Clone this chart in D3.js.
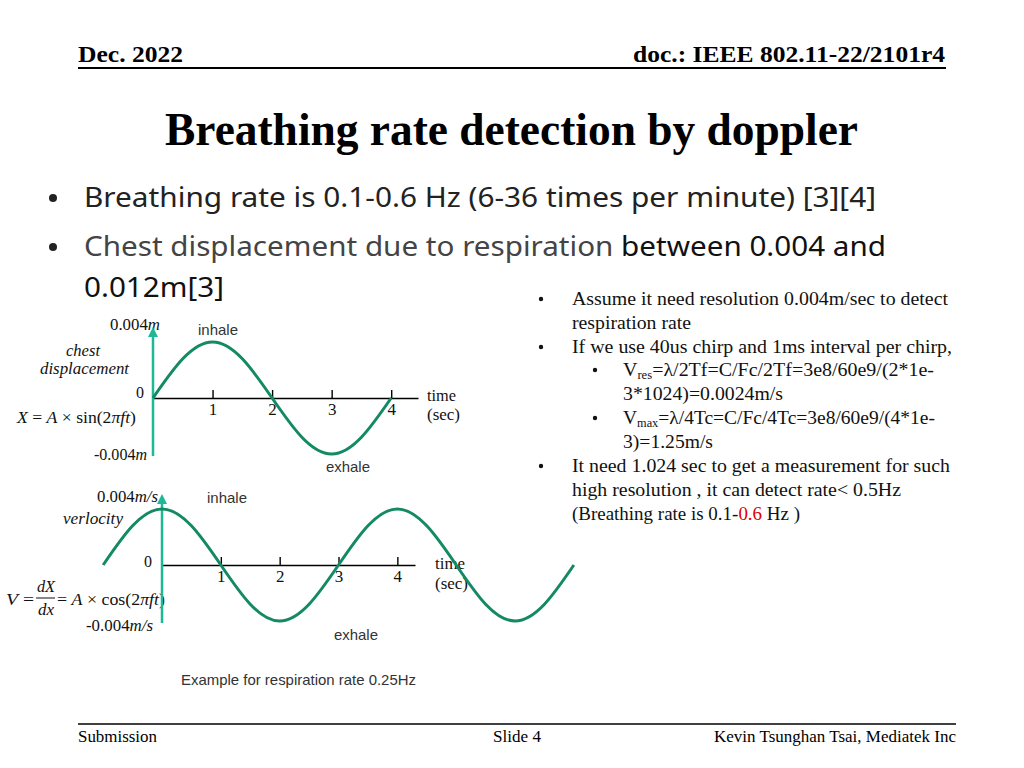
<!DOCTYPE html>
<html>
<head>
<meta charset="utf-8">
<script src="https://cdn.jsdelivr.net/npm/d3@7"></script>
<style>
  body { margin: 0; background: #fff; }
  svg { display: block; }
  .serif { font-family: "Liberation Serif", "Times New Roman", serif; }
  .sans { font-family: "Liberation Sans", Arial, sans-serif; }
</style>
</head>
<body>
<svg id="slide" width="1024" height="768"></svg>
<script>
var dispTimes = [0, 0.5, 1, 1.5, 2, 2.5, 3, 3.5, 4];
var dispValues = [0, 0.0028, 0.004, 0.0028, 0, -0.0028, -0.004, -0.0028, 0];

var velTimes = [-1, -0.5, 0, 0.5, 1, 1.5, 2, 2.5, 3, 3.5, 4, 4.5, 5, 5.5, 6, 6.5, 7];
var velValues = [0, 0.0028, 0.004, 0.0028, 0, -0.0028, -0.004, -0.0028, 0,
                 0.0028, 0.004, 0.0028, 0, -0.0028, -0.004, -0.0028, 0];

var tickLabels = [1, 2, 3, 4];

var curveColor = "#138a64";
var arrowColor = "#1db894";

var svg = d3.select("#slide");
svg.append("rect").attr("width", 1024).attr("height", 768).attr("fill", "#fff");

var defs = svg.append("defs");
defs.append("marker")
  .attr("id", "head")
  .attr("viewBox", "0 0 10 10")
  .attr("refX", 5).attr("refY", 5)
  .attr("markerWidth", 4).attr("markerHeight", 4)
  .attr("orient", "auto")
  .append("path")
  .attr("d", "M0,0 L10,5 L0,10 z")
  .attr("fill", arrowColor);

function fit(sel, len) {
  return sel.attr("textLength", len).attr("lengthAdjust", "spacingAndGlyphs");
}

// ---- header / footer ----
fit(svg.append("text").attr("class", "serif")
  .attr("x", 78).attr("y", 62)
  .style("font-size", "23px").style("font-weight", "bold")
  .text("Dec. 2022"), 105);
fit(svg.append("text").attr("class", "serif")
  .attr("x", 633).attr("y", 62)
  .style("font-size", "23px").style("font-weight", "bold")
  .text("doc.: IEEE 802.11-22/2101r4"), 312);
svg.append("line")
  .attr("x1", 78).attr("x2", 946).attr("y1", 68).attr("y2", 68)
  .attr("stroke", "#000").attr("stroke-width", 2);

fit(svg.append("text").attr("class", "serif")
  .attr("x", 165).attr("y", 145)
  .style("font-size", "47px").style("font-weight", "bold")
  .text("Breathing rate detection by doppler"), 693);

svg.append("line")
  .attr("x1", 78).attr("x2", 956).attr("y1", 724).attr("y2", 724)
  .attr("stroke", "#000").attr("stroke-width", 1.5);
fit(svg.append("text").attr("class", "serif")
  .attr("x", 78).attr("y", 742).style("font-size", "16.5px")
  .text("Submission"), 79);
fit(svg.append("text").attr("class", "serif")
  .attr("x", 493).attr("y", 742).style("font-size", "16.5px")
  .text("Slide 4"), 48);
fit(svg.append("text").attr("class", "serif")
  .attr("x", 714).attr("y", 742).style("font-size", "16.5px")
  .text("Kevin Tsunghan Tsai, Mediatek Inc"), 242);

// ---- main bullets ----
var bulletFont = "'Noto Sans', 'Open Sans', sans-serif";
function bigBullet(y) {
  svg.append("circle").attr("cx", 53).attr("cy", y - 9).attr("r", 4).attr("fill", "#222");
}
bigBullet(207);
fit(svg.append("text").attr("x", 84).attr("y", 207)
  .style("font-family", bulletFont).style("font-size", "28px").attr("fill", "#222")
  .text("Breathing rate is 0.1-0.6 Hz (6-36 times per minute) [3][4]"), 792);
bigBullet(256);
var b2 = fit(svg.append("text").attr("x", 84).attr("y", 256)
  .style("font-family", bulletFont).style("font-size", "28px"), 802);
b2.append("tspan").attr("fill", "#444").text("Chest displacement due to respiration ");
b2.append("tspan").attr("fill", "#111").text("between 0.004 and");
fit(svg.append("text").attr("x", 84).attr("y", 297)
  .style("font-family", bulletFont).style("font-size", "28px").attr("fill", "#111")
  .text("0.012m[3]"), 140);

// ---- right column notes ----
function noteLine(x, y, parts, end) {
  var t = svg.append("text").attr("class", "serif")
    .attr("x", x).attr("y", y).style("font-size", "19px").attr("fill", "#111");
  fit(t, end - x);
  parts.forEach(function (p) {
    var s = t.append("tspan").text(p.t);
    if (p.sub) s.attr("baseline-shift", "-25%").style("font-size", "12px");
    if (p.c) s.attr("fill", p.c);
  });
  return t;
}
function noteBullet(x, y) {
  svg.append("circle").attr("cx", x).attr("cy", y - 6).attr("r", 2.2).attr("fill", "#111");
}
noteBullet(541, 305);
noteLine(572, 305, [{t: "Assume it need resolution 0.004m/sec to detect"}], 948);
noteLine(572, 329, [{t: "respiration rate"}], 691);
noteBullet(541, 353);
noteLine(572, 353, [{t: "If we use 40us chirp and 1ms interval per chirp,"}], 952);
noteBullet(595, 376);
noteLine(623, 376, [{t: "V"}, {t: "res", sub: true}, {t: "=λ/2Tf=C/Fc/2Tf=3e8/60e9/(2*1e-"}], 934);
noteLine(623, 400, [{t: "3*1024)=0.0024m/s"}], 783);
noteBullet(595, 424);
noteLine(623, 424, [{t: "V"}, {t: "max", sub: true}, {t: "=λ/4Tc=C/Fc/4Tc=3e8/60e9/(4*1e-"}], 935);
noteLine(623, 448, [{t: "3)=1.25m/s"}], 713);
noteBullet(541, 472);
noteLine(572, 472, [{t: "It need 1.024 sec to get a measurement for such"}], 950);
noteLine(572, 496, [{t: "high resolution , it can detect rate< 0.5Hz"}], 901);
noteLine(572, 520, [{t: "(Breathing rate is 0.1-"}, {t: "0.6", c: "#e00000"}, {t: " Hz )"}], 800);

// ---- helpers for the two plots ----
function mathText(x, y, parts, width, size) {
  var t = svg.append("text").attr("class", "serif")
    .attr("x", x).attr("y", y).style("font-size", (size || 16) + "px").attr("fill", "#111");
  if (width) fit(t, width);
  parts.forEach(function (p) {
    var s = t.append("tspan").text(p.t);
    if (p.i) s.style("font-style", "italic");
  });
  return t;
}
function plainLabel(x, y, txt, width) {
  var t = svg.append("text").attr("class", "sans")
    .attr("x", x).attr("y", y).style("font-size", "14.5px").attr("fill", "#333")
    .text(txt);
  if (width) fit(t, width);
}

function drawPlot(cfg) {
  var x = d3.scaleLinear().domain([0, cfg.xMax]).range([cfg.x0, cfg.x1]);
  var y = d3.scaleLinear().domain([-0.004, 0.004]).range([cfg.yBottom, cfg.yTop]);

  var axis = d3.axisBottom(x)
    .tickValues(tickLabels)
    .tickFormat(d3.format("d"))
    .tickSizeInner(-8)
    .tickSizeOuter(0)
    .tickPadding(5);
  var g = svg.append("g").attr("transform", "translate(0," + y(0) + ")").call(axis);
  g.select(".domain").attr("stroke", "#000").attr("stroke-width", 1.4);
  g.selectAll(".tick line").attr("stroke", "#000").attr("stroke-width", 1.4);
  g.selectAll(".tick text")
    .attr("fill", "#111")
    .style("font-family", "'Liberation Serif', serif")
    .style("font-size", "17px");

  // vertical arrow (y axis)
  svg.append("line")
    .attr("x1", x(0)).attr("x2", x(0))
    .attr("y1", y(-0.004) + 2).attr("y2", y(0.004) - 10)
    .attr("stroke", arrowColor).attr("stroke-width", 2.5)
    .attr("marker-end", "url(#head)");

  var line = d3.line()
    .x(function (d) { return x(d[0]); })
    .y(function (d) { return y(d[1]); })
    .curve(d3.curveNatural);
  svg.append("path")
    .datum(d3.zip(cfg.times, cfg.values))
    .attr("d", line)
    .attr("fill", "none")
    .attr("stroke", curveColor)
    .attr("stroke-width", 3);

  return {x: x, y: y};
}

// ---- top plot: displacement ----
mathText(110, 330, [{t: "0.004"}, {t: "m", i: true}], 50);
plainLabel(198, 335, "inhale", 40);
mathText(66, 356, [{t: "chest", i: true}], 34);
mathText(40, 374, [{t: "displacement", i: true}], 89);
mathText(136, 398, [{t: "0"}]);
mathText(427, 401, [{t: "time"}], 29);
mathText(427, 420, [{t: "(sec)"}], 33);
mathText(17, 423, [{t: "X", i: true}, {t: " = "}, {t: "A", i: true}, {t: " × sin(2"},
                   {t: "πft", i: true}, {t: ")"}], 119);
mathText(94, 460, [{t: "-0.004"}, {t: "m", i: true}], 53);
plainLabel(326, 472, "exhale", 44);

drawPlot({xMax: 4.45, x0: 153, x1: 418, yTop: 342, yBottom: 454,
          times: dispTimes, values: dispValues});

// ---- bottom plot: velocity ----
mathText(97, 502, [{t: "0.004"}, {t: "m/s", i: true}], 61);
plainLabel(207, 503, "inhale", 40);
mathText(63, 524, [{t: "verlocity", i: true}], 60);
mathText(144, 567, [{t: "0"}]);
mathText(435, 569, [{t: "time"}], 30);
mathText(435, 589, [{t: "(sec)"}], 33);
mathText(6, 605, [{t: "V", i: true}, {t: " ="}], 28);
mathText(37, 592, [{t: "dX", i: true}], 18);
svg.append("line").attr("x1", 36).attr("x2", 55).attr("y1", 598).attr("y2", 598)
  .attr("stroke", "#111").attr("stroke-width", 1);
mathText(38, 615, [{t: "dx", i: true}], 16);
mathText(57, 605, [{t: "= "}, {t: "A", i: true}, {t: " × cos(2"}, {t: "πft", i: true}, {t: ")"}], 108);
mathText(86, 631, [{t: "-0.004"}, {t: "m/s", i: true}], 67);
plainLabel(334, 640, "exhale", 44);

drawPlot({xMax: 4.3, x0: 162, x1: 415, yTop: 509, yBottom: 621,
          times: velTimes, values: velValues});

plainLabel(181, 685, "Example for respiration rate 0.25Hz", 235);
</script>
</body>
</html>
